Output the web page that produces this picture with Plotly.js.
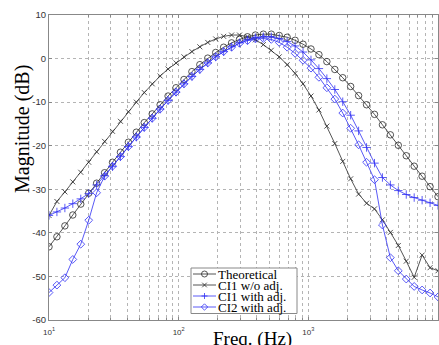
<!DOCTYPE html>
<html><head><meta charset="utf-8">
<script src="https://cdn.plot.ly/plotly-3.0.1.min.js"></script>
<style>html,body{margin:0;padding:0;background:#fff}#chart{width:439px;height:345px}</style>
</head><body><div id="chart"></div>
<script>
// frequency points (Hz)
const freq = [10, 11.51, 13.26, 15.26, 17.58, 20.24, 23.30, 26.83, 30.89, 35.56,
  40.95, 47.15, 54.29, 62.51, 71.97, 82.86, 95.41, 109.85, 126.49, 145.63,
  167.68, 193.07, 222.30, 255.95, 294.71, 339.32, 390.70, 449.84, 517.95, 596.36,
  686.65, 790.60, 910.30, 1048.1, 1206.8, 1389.5, 1599.9, 1842.1, 2121.0, 2442.1,
  2811.8, 3237.5, 3727.6, 4291.9, 4941.7, 5689.9, 6551.3, 7543.1, 8685.1, 10000];

const theoretical = [-43.2, -40.9, -38.4, -35.9, -33.4, -30.9, -28.6, -26.2, -23.8, -21.5,
  -19.2, -16.9, -14.7, -12.7, -10.6, -8.6, -6.7, -4.8, -3.0, -1.4,
  0.1, 1.4, 2.6, 3.6, 4.4, 5.0, 5.4, 5.6, 5.6, 5.3,
  4.9, 4.2, 3.3, 2.2, 0.9, -0.7, -2.5, -4.4, -6.4, -8.5,
  -10.6, -12.8, -15.2, -17.5, -19.9, -22.3, -24.7, -27.0, -29.4, -31.7];

const ci1NoAdj = [-36.0, -32.8, -30.6, -28.3, -26.1, -23.8, -21.4, -19.0, -16.7, -14.4,
  -12.2, -10.0, -7.8, -5.8, -4.0, -2.4, -1.0, 0.4, 1.6, 2.7,
  3.7, 4.5, 5.1, 5.4, 5.4, 5.0, 4.3, 3.2, 1.9, 0.4,
  -1.4, -3.4, -5.8, -8.6, -11.8, -15.5, -19.5, -23.6, -27.6, -31.1,
  -33.2, -34.5, -37.0, -39.9, -42.9, -46.5, -50.2, -45.1, -48.0, -48.7];

const ci1Adj = [-36.0, -35.2, -34.3, -33.3, -32.2, -31.0, -29.0, -26.9, -24.8, -22.5,
  -20.2, -18.0, -15.8, -13.7, -11.6, -9.6, -7.7, -5.8, -4.1, -2.5,
  -1.0, 0.4, 1.6, 2.7, 3.6, 4.3, 4.8, 5.0, 5.0, 4.6,
  3.9, 2.9, 1.5, -0.3, -2.3, -4.6, -7.1, -9.9, -13.0, -16.6,
  -20.4, -24.0, -27.3, -29.0, -30.3, -31.2, -31.9, -32.5, -33.1, -33.7];

const ci2Adj = [-53.7, -52.0, -50.3, -46.1, -42.6, -37.1, -30.8, -27.0, -24.7, -22.5,
  -20.2, -18.0, -15.8, -13.7, -11.6, -9.6, -7.7, -5.8, -4.1, -2.5,
  -1.0, 0.4, 1.6, 2.6, 3.5, 4.1, 4.5, 4.6, 4.4, 3.7,
  2.6, 1.2, -0.4, -2.2, -4.3, -6.7, -9.3, -12.5, -16.0, -19.8,
  -23.8, -27.8, -38.2, -45.7, -48.7, -50.6, -52.3, -53.1, -53.8, -54.7];

const seriesNames = ['Theoretical', 'CI1 w/o adj.', 'CI1 with adj.', 'CI2 with adj.'];
const xDecades = [10, 100, 1000, 10000];
const xDecadeLabels = ['10<sup>1</sup>', '10<sup>2</sup>', '10<sup>3</sup>', '10<sup>4</sup>'];
const xMinorVals = [20,30,40,50,60,70,80,90,200,300,400,500,600,700,800,900,
  2000,3000,4000,5000,6000,7000,8000,9000];
const yTickVals = [-60, -50, -40, -30, -20, -10, 0, 10];
const xTitle = 'Freq. (Hz)';
const yTitle = 'Magnitude (dB)';

const BLACK = '#2a2a2a', BLUE = '#3030f4';
const W = 439, H = 345;
const M = {l: 49, r: 1, t: 15, b: 25};
const PW = W - M.l - M.r, PH = H - M.t - M.b;
const px = v => (v - M.l) / PW;
const py = v => (H - M.b - v) / PH;

const ys = [theoretical, ci1NoAdj, ci1Adj, ci2Adj];
const colors = [BLACK, BLACK, BLUE, BLUE];
const symbols = ['circle-open', 'x-thin-open', 'cross-thin-open', 'diamond-open'];
const sizes = [6.5, 5, 6, 6];

const traces = ys.map((y, k) => ({
  x: freq, y: y, type: 'scatter', mode: 'lines+markers', name: seriesNames[k],
  line: {color: colors[k], width: 0.8},
  marker: {symbol: symbols[k], size: sizes[k], color: colors[k], line: {color: colors[k], width: 0.8}},
  showlegend: false, cliponaxis: true
}));

// custom compact legend
const shapes = [];
const annotations = [];
const box = {x0: 191, x1: 297, y0: 268, y1: 313.5};
shapes.push({type: 'rect', xref: 'paper', yref: 'paper', x0: px(box.x0), x1: px(box.x1),
  y0: py(box.y1), y1: py(box.y0), line: {color: '#888', width: 1}, fillcolor: '#fff', layer: 'above'});
const rowY = [274, 285, 296, 307];
const mPaths = [
  null,
  'M-2.3,-2.3L2.3,2.3M-2.3,2.3L2.3,-2.3',
  'M-3,0L3,0M0,-3L0,3',
  'M0,-3.2L3.2,0L0,3.2L-3.2,0Z'
];
seriesNames.forEach((nm, k) => {
  const yy = py(rowY[k]);
  shapes.push({type: 'line', xref: 'paper', yref: 'paper', x0: px(193), x1: px(216), y0: yy, y1: yy,
    line: {color: colors[k], width: 0.8}, layer: 'above'});
  if (k === 0) {
    shapes.push({type: 'circle', xref: 'paper', yref: 'paper', xsizemode: 'pixel', ysizemode: 'pixel',
      xanchor: px(204.5), yanchor: yy, x0: -3, x1: 3, y0: -3, y1: 3,
      line: {color: colors[k], width: 0.8}, fillcolor: 'rgba(0,0,0,0)', layer: 'above'});
  } else {
    shapes.push({type: 'path', xref: 'paper', yref: 'paper', xsizemode: 'pixel', ysizemode: 'pixel',
      xanchor: px(204.5), yanchor: yy, path: mPaths[k],
      line: {color: colors[k], width: 0.8}, fillcolor: 'rgba(0,0,0,0)', layer: 'above'});
  }
  annotations.push({xref: 'paper', yref: 'paper', x: px(217), y: yy, xanchor: 'left', yanchor: 'middle',
    text: nm, showarrow: false, borderpad: 0,
    font: {family: 'Liberation Serif, Times New Roman, serif', size: 13, color: '#000'}});
});

annotations.push({xref: 'paper', yref: 'paper', x: px(252), y: 0, xanchor: 'center', yanchor: 'top',
  yshift: -6, text: xTitle, showarrow: false,
  font: {family: 'Liberation Serif, Times New Roman, serif', size: 19, color: '#000'}});
annotations.push({xref: 'paper', yref: 'paper', x: px(22), y: py(129), xanchor: 'center', yanchor: 'middle',
  textangle: -90, text: yTitle, showarrow: false,
  font: {family: 'Liberation Serif, Times New Roman, serif', size: 20, color: '#000'}});

const axisCommon = {
  showline: true, linecolor: '#888', linewidth: 1, mirror: 'ticks',
  ticks: 'inside', ticklen: 3, tickcolor: '#888', tickwidth: 1,
  showgrid: true, gridcolor: '#b4b4b4', gridwidth: 1, griddash: 'dot',
  zeroline: false
};

const layout = {
  width: W, height: H, margin: M,
  paper_bgcolor: '#fff', plot_bgcolor: '#fff',
  font: {family: 'Liberation Sans, Arial, sans-serif', color: '#333'},
  showlegend: false,
  xaxis: Object.assign({}, axisCommon, {
    type: 'log', range: [1, 4], tickmode: 'array', tickvals: xDecades, ticktext: xDecadeLabels,
    tickfont: {size: 8, color: '#333'}, ticklabelstandoff: 4,
    minor: {tickmode: 'array', tickvals: xMinorVals, ticks: 'inside', ticklen: 2, tickcolor: '#888',
      showgrid: true, gridcolor: '#b4b4b4', gridwidth: 1, griddash: 'dot'}
  }),
  yaxis: Object.assign({}, axisCommon, {
    range: [-60, 10], tickmode: 'array', tickvals: yTickVals,
    ticktext: yTickVals.map(v => String(v)),
    tickfont: {size: 9.5, color: '#333'}
  }),
  shapes: shapes, annotations: annotations
};

Plotly.newPlot('chart', traces, layout, {displayModeBar: false, staticPlot: true});
</script></body></html>
